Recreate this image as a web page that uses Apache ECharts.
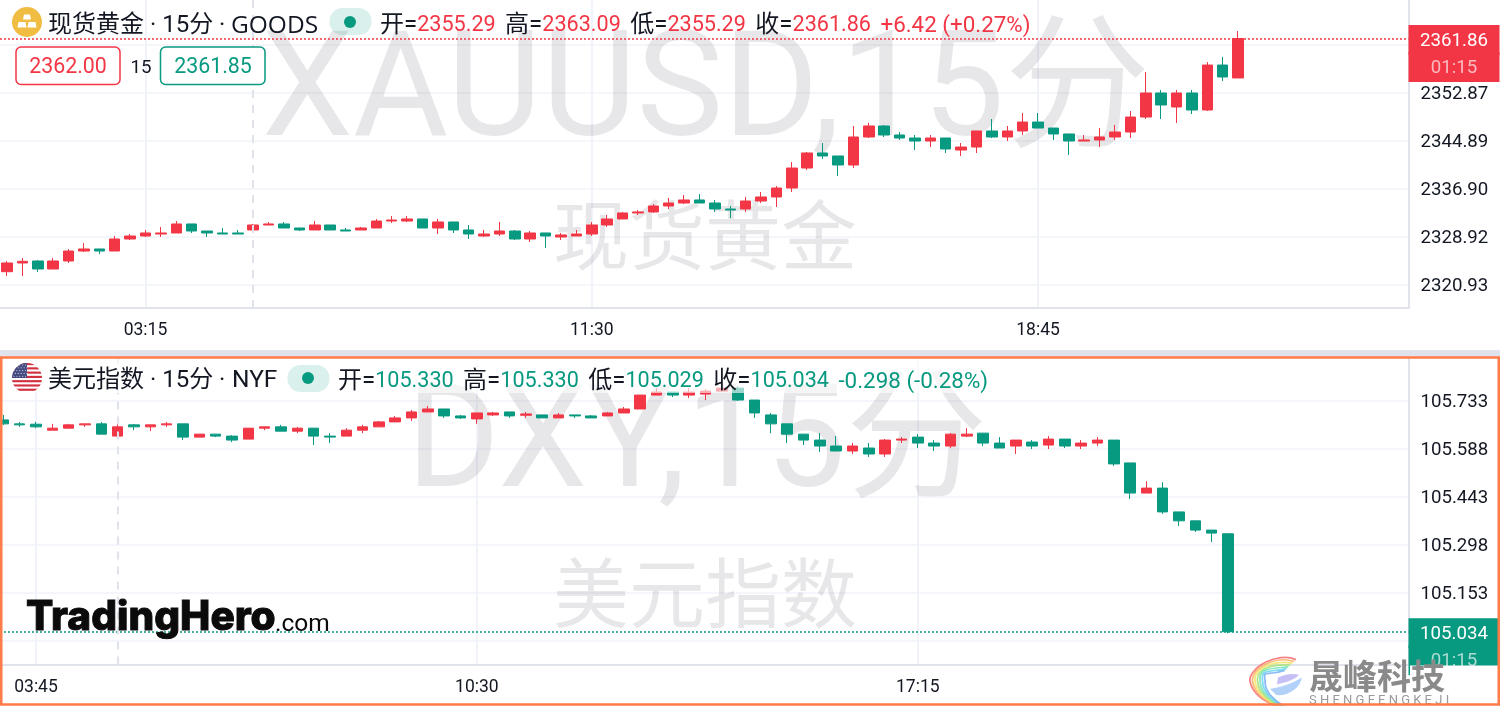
<!DOCTYPE html>
<html><head><meta charset="utf-8">
<style>html,body{margin:0;padding:0;background:#fff}#c{width:1500px;height:706px}</style>
<script src="https://cdn.jsdelivr.net/npm/echarts@6/dist/echarts.min.js"></script>
</head><body><div id="c"></div>
<script>
const UP='#F23645', DOWN='#089981', INK='#131722', GRID='#F0F3FA', AXIS='#E0E3EB';
const FONT='Roboto,"Noto Sans CJK SC",sans-serif';

// ---- 现货黄金 15分 ----
const goldOpen=[2323.06,2324.51,2324.84,2323.51,2324.84,2326.50,2326.84,2326.50,2328.50,2329.00,2329.33,2329.50,2331.00,2329.83,2329.50,2329.50,2330.00,2330.83,2331.00,2330.33,2330.00,2330.83,2330.00,2330.00,2330.33,2331.49,2331.49,2331.83,2330.33,2331.33,2330.00,2329.00,2329.33,2329.83,2328.50,2329.50,2328.83,2329.00,2329.33,2330.83,2331.83,2332.83,2333.00,2333.99,2334.49,2334.99,2334.49,2333.49,2333.49,2334.82,2335.49,2336.98,2340.31,2342.81,2342.31,2340.81,2345.47,2347.30,2345.80,2345.30,2344.80,2345.30,2343.30,2343.80,2346.47,2345.47,2346.47,2347.96,2346.96,2345.97,2344.80,2344.97,2345.47,2346.30,2348.79,2352.79,2350.46,2352.79,2349.96,2357.44,2355.29];
const goldHigh=[2324.84,2325.34,2325.00,2325.34,2326.84,2327.83,2326.84,2329.00,2329.33,2330.00,2330.50,2331.49,2331.00,2329.83,2330.33,2330.00,2331.00,2331.33,2331.33,2330.33,2331.49,2330.83,2330.33,2330.50,2331.83,2332.33,2332.33,2331.83,2331.83,2331.33,2330.83,2330.00,2331.33,2330.00,2329.83,2329.50,2329.50,2330.00,2331.33,2332.49,2333.00,2333.32,2334.32,2335.32,2335.82,2335.99,2334.99,2333.99,2335.49,2336.32,2337.31,2341.31,2342.97,2344.47,2342.31,2347.30,2347.80,2347.46,2346.30,2345.80,2345.80,2345.30,2344.47,2346.47,2348.46,2347.30,2349.46,2349.46,2346.96,2345.97,2345.80,2346.96,2347.46,2349.79,2356.28,2353.29,2353.29,2353.29,2357.94,2358.77,2363.09];
const goldLow=[2322.34,2322.34,2323.00,2323.51,2324.51,2326.34,2326.00,2326.50,2328.33,2328.83,2328.83,2329.50,2329.50,2328.83,2329.33,2329.33,2330.00,2330.83,2330.33,2329.83,2330.00,2330.00,2329.83,2330.00,2330.33,2331.16,2331.33,2330.33,2329.33,2329.50,2328.50,2328.83,2329.00,2328.33,2328.00,2327.00,2328.33,2329.00,2329.00,2330.50,2331.83,2332.49,2332.83,2333.49,2334.32,2334.49,2333.00,2331.99,2333.00,2334.49,2333.82,2336.32,2339.98,2341.81,2338.98,2340.31,2345.30,2345.47,2344.97,2343.30,2343.80,2342.81,2342.31,2342.81,2345.30,2344.80,2345.80,2346.96,2344.97,2342.47,2344.80,2343.80,2344.97,2345.30,2348.46,2348.46,2347.80,2349.29,2349.79,2354.78,2355.29];
const goldClose=[2324.51,2324.78,2323.51,2324.84,2326.50,2326.84,2326.50,2328.50,2329.00,2329.50,2329.50,2331.00,2329.83,2329.50,2329.33,2329.33,2330.83,2331.00,2330.33,2330.00,2330.83,2330.00,2329.83,2330.33,2331.49,2331.66,2331.83,2330.33,2331.33,2330.00,2329.33,2329.33,2329.83,2328.50,2329.50,2329.00,2329.17,2329.33,2330.83,2331.83,2332.83,2333.00,2333.99,2334.49,2334.99,2334.49,2333.49,2333.32,2334.82,2335.49,2336.98,2340.31,2342.81,2342.31,2340.81,2345.47,2347.30,2345.80,2345.30,2344.80,2345.30,2343.47,2343.80,2346.47,2345.47,2346.47,2347.96,2346.96,2345.97,2344.80,2344.97,2345.47,2346.30,2348.79,2352.79,2350.79,2352.79,2349.96,2357.44,2355.45,2361.86];
const goldTimeIdx=[9,38,67], goldTimeLabels=['03:15','11:30','18:45'], goldSessionIdx=16;
const goldGridValues=[2320.93,2328.92,2336.90,2344.89,2352.87,2360.86];
const goldTickLabels=[2320.93,2328.92,2336.90,2344.89,2352.87];
const goldLast=2361.86;

// ---- 美元指数 15分 ----
const dxyOpen=[105.674,105.662,105.661,105.643,105.649,105.659,105.662,105.625,105.659,105.653,105.659,105.662,105.622,105.631,105.625,105.616,105.649,105.653,105.640,105.649,105.625,105.625,105.643,105.653,105.668,105.680,105.698,105.707,105.686,105.677,105.689,105.698,105.688,105.689,105.680,105.689,105.686,105.686,105.695,105.707,105.749,105.758,105.749,105.752,105.761,105.770,105.734,105.689,105.662,105.631,105.613,105.595,105.580,105.589,105.571,105.613,105.622,105.604,105.595,105.625,105.634,105.604,105.595,105.607,105.598,105.616,105.595,105.604,105.613,105.544,105.453,105.468,105.396,105.369,105.341,105.330];
const dxyHigh=[105.689,105.668,105.668,105.662,105.662,105.662,105.668,105.662,105.662,105.659,105.668,105.662,105.631,105.631,105.628,105.649,105.653,105.659,105.653,105.649,105.634,105.649,105.659,105.671,105.686,105.704,105.716,105.707,105.689,105.695,105.698,105.698,105.698,105.689,105.695,105.689,105.689,105.698,105.713,105.749,105.770,105.758,105.770,105.767,105.779,105.776,105.734,105.695,105.662,105.631,105.634,105.625,105.604,105.604,105.616,105.622,105.631,105.613,105.634,105.649,105.634,105.622,105.613,105.613,105.625,105.616,105.613,105.622,105.613,105.544,105.489,105.486,105.396,105.369,105.341,105.330];
const dxyLow=[105.659,105.653,105.649,105.643,105.649,105.653,105.631,105.625,105.643,105.640,105.653,105.613,105.622,105.622,105.607,105.616,105.643,105.640,105.634,105.598,105.604,105.625,105.634,105.653,105.668,105.671,105.698,105.680,105.677,105.662,105.686,105.680,105.680,105.680,105.680,105.680,105.680,105.686,105.695,105.707,105.749,105.743,105.740,105.734,105.761,105.731,105.680,105.634,105.604,105.598,105.577,105.580,105.571,105.562,105.562,105.604,105.589,105.580,105.589,105.622,105.595,105.589,105.571,105.586,105.586,105.589,105.586,105.595,105.535,105.435,105.453,105.390,105.353,105.335,105.305,105.029];
const dxyClose=[105.662,105.659,105.653,105.649,105.659,105.662,105.631,105.653,105.653,105.659,105.662,105.622,105.631,105.625,105.613,105.649,105.653,105.640,105.649,105.625,105.622,105.643,105.653,105.668,105.680,105.698,105.707,105.686,105.680,105.695,105.695,105.686,105.692,105.680,105.689,105.686,105.680,105.695,105.707,105.749,105.758,105.749,105.758,105.761,105.770,105.734,105.695,105.662,105.631,105.613,105.595,105.580,105.595,105.571,105.613,105.616,105.604,105.595,105.631,105.631,105.604,105.589,105.613,105.595,105.616,105.595,105.604,105.613,105.541,105.453,105.468,105.396,105.369,105.341,105.332,105.034];
const dxyTimeIdx=[2,29,56], dxyTimeLabels=['03:45','10:30','17:15'], dxySessionIdx=7;
const dxyGridValues=[105.008,105.153,105.298,105.443,105.588,105.733];
const dxyTickLabels=[105.153,105.298,105.443,105.588,105.733];
const dxyLast=105.034;

// ---- texts ----
const goldName='现货黄金 · 15分 ·', goldVenue='GOODS', dxyName='美元指数 · 15分 ·', dxyVenue='NYF';
const goldStats=['2355.29','2363.09','2355.29','2361.86','+6.42 (+0.27%)'];
const dxyStats=['105.330','105.330','105.029','105.034','-0.298 (-0.28%)'];
const statNames=['开','高','低','收'];
const sellPrice='2362.00', spread='15', buyPrice='2361.85', countdown='01:15';

function rows(o,h,l,c){return o.map((v,i)=>[i,v,c[i],l[i],h[i]]);}
function candle(idx,data,last,sess,color,box,offsetY){
  const axis={xAxisIndex:idx,yAxisIndex:idx};
  const tok={backgroundColor:color,width:91,height:27,lineHeight:27,padding:[3,0,0,0],align:'center',fontSize:18.67,fontFamily:FONT};
  return Object.assign({type:'candlestick',data,barWidth:11,clip:true,silent:true,animation:false,
    itemStyle:{color:UP,color0:DOWN,borderColor:UP,borderColor0:DOWN,borderWidth:1},
    markLine:{silent:true,animation:false,symbol:'none',precision:3,
      data:[
       {yAxis:last,lineStyle:{color,type:[2,2],width:1.5,opacity:1},
        label:{show:true,position:'end',distance:0,offset:[0,offsetY],padding:0,
          formatter:'{p|'+box+'}\n{t|'+countdown+'}',
          rich:{p:Object.assign({color:'#fff'},tok),t:Object.assign({color:'rgba(255,255,255,.65)'},tok)}}},
       {xAxis:sess,lineStyle:{color:AXIS,type:[8,7],width:2,opacity:1},label:{show:false}}
      ]}},axis);
}
function xAx(idx,min,max,ticks,labels){
  return {type:'value',gridIndex:idx,min,max,
    axisLine:{show:true,onZero:false,lineStyle:{color:AXIS,width:2}},
    axisTick:{show:false,customValues:ticks},
    splitLine:{show:true,lineStyle:{color:GRID,width:2}},
    axisLabel:{customValues:ticks,margin:14,color:INK,fontSize:17.5,fontFamily:FONT,hideOverlap:false,
      formatter:v=>labels[ticks.indexOf(v)]||''}};
}
function yAx(idx,min,max,grids,ticks,digits){
  return {type:'value',gridIndex:idx,position:'right',min,max,scale:true,
    axisLine:{show:true,onZero:false,lineStyle:{color:AXIS,width:2}},
    axisTick:{show:false,customValues:grids},
    splitLine:{show:true,lineStyle:{color:GRID,width:1.5}},
    axisLabel:{customValues:ticks,margin:12,hideOverlap:false,
      rich:{a:{color:INK,fontSize:18.67,fontFamily:FONT,padding:[4,0,0,0]}},
      formatter:v=>'{a|'+v.toFixed(digits)+'}'}};
}
function svg(s,w,h){return 'data:image/svg+xml;charset=utf-8,'+encodeURIComponent('<svg xmlns="http://www.w3.org/2000/svg" width="'+w+'" height="'+h+'" viewBox="0 0 '+w+' '+h+'">'+s+'</svg>');}
const goldIcon=svg('<circle cx="15" cy="15" r="15" fill="#F0BC42"/><g fill="#fff"><path d="M12 7.5h6l1 5h-8z"/><path d="M6.5 15h7l1 5.5H5.5z"/><path d="M16.5 15h7l1 5.5h-9z"/></g>',30,30);
let stripes='';for(let i=0;i<7;i++)stripes+='<rect y="'+(i*4.28)+'" width="30" height="2.14" fill="#D22F3F"/>';
let stars='';for(let r=0;r<5;r++)for(let c=0;c<5;c++)stars+='<circle cx="'+(2+c*2.9+(r%2)*1.4)+'" cy="'+(2+r*2.8)+'" r=".55" fill="#dfe3ef"/>';
const flagIcon=svg('<defs><clipPath id="a"><circle cx="15" cy="15" r="15"/></clipPath></defs><g clip-path="url(#a)"><rect width="30" height="30" fill="#fff"/>'+stripes+'<rect width="15" height="15" fill="#454A80"/>'+stars+'</g>',30,30);
const arcs=['#F7777A','#F9B56A','#F3E36C','#A8E27A','#7FE3B8','#6FD6EE','#7CB4F5'];
let swirl='';arcs.forEach((a,i)=>{const k=i*2.1;swirl+='<path d="M'+(48-k*.9)+' '+(7+k*.9)+' C'+(30-k)+' '+(-2+k*2.2)+' '+(0+k*1.2)+' 16 '+(2+k*1.2)+' 30 C'+(4+k)+' 42 '+(16+k)+' 52 '+(30+k*.5)+' 56" fill="none" stroke="'+a+'" stroke-width="1.8" opacity=".9"/>';});
swirl+='<path d="M30 26 C35 23 44 21 51 23 C47 28 39 31 29 33 Z" fill="#C4BFF4"/><path d="M22 38 C31 37 43 33 54 26 C52 38 38 47 28 44 Z" fill="#A9CCF8" opacity=".9"/>';
const swirlIcon=svg(swirl,56,56);

function T(x,y,text,size,color,extra){return {type:'text',z:40,silent:true,style:Object.assign({x,y,text,fontSize:size,fill:color,fontFamily:FONT,verticalAlign:'middle'},extra||{})};}
function statText(x,y,stats,color){
  const rich={n:{fontSize:24,fill:INK,fontFamily:FONT},v:{fontSize:21.6,fill:color,fontFamily:FONT},g:{fontSize:19,fill:INK,fontFamily:FONT},e:{fontSize:22.4,fill:color,fontFamily:FONT}};
  let s='';statNames.forEach((n,i)=>{s+='{n|'+n+'=}{v|'+stats[i]+'}{g|  }';});
  s+='{e|'+stats[4]+'}';
  return {type:'text',z:40,silent:true,style:{x,y,text:s,rich,verticalAlign:'middle',font:'21.33px '+FONT}};
}
const WM='rgba(19,23,43,.1)';
const graphics=[
 // watermarks
 T(706,98,'XAUUSD,15分',146,WM,{align:'center',z:1}),
 T(705,245,'现货黄金',76,WM,{align:'center'}),
 T(697,450,'DXY,15分',142,WM,{align:'center'}),
 T(705,603,'美元指数',76,WM,{align:'center'}),
 // band between the panes
 {type:'rect',z:36,silent:true,shape:{x:0,y:350,width:1500,height:7},style:{fill:'#E0E3EB'}},
 // legend veil in lower pane, mask below axis
 {type:'rect',z:30,silent:true,shape:{x:3,y:359,width:1000,height:34},style:{fill:'rgba(255,255,255,.6)'}},
 {type:'rect',z:30,silent:true,shape:{x:1410,y:665.5,width:88,height:40},style:{fill:'#fff'}},
 // top pane header
 {type:'image',z:40,silent:true,style:{image:goldIcon,x:12,y:7,width:30,height:30}},
 T(48,26,goldName,24,INK),
 T(231,26,goldVenue,24.5,INK,{fontFamily:'"Open Sans",sans-serif'}),
 {type:'rect',z:40,silent:true,shape:{x:329.5,y:8,width:42,height:27,r:13},style:{fill:'rgba(8,153,129,.15)'}},
 {type:'circle',z:41,silent:true,shape:{cx:350,cy:22,r:6},style:{fill:DOWN}},
 statText(380,26,goldStats,UP),
 {type:'rect',z:40,silent:true,shape:{x:16,y:47,width:104,height:37.5,r:5},style:{fill:'#fff',stroke:UP,lineWidth:1.5}},
 T(68,68,sellPrice,21.33,UP,{align:'center'}),
 T(141,68,spread,18.67,INK,{align:'center'}),
 {type:'rect',z:40,silent:true,shape:{x:160.5,y:47,width:104.5,height:37.5,r:5},style:{fill:'#fff',stroke:DOWN,lineWidth:1.5}},
 T(213,68,buyPrice,21.33,DOWN,{align:'center'}),
 // lower pane header
 {type:'image',z:40,silent:true,style:{image:flagIcon,x:12,y:363,width:30,height:30}},
 T(48,381,dxyName,24,INK),
 T(232,381,dxyVenue,24.5,INK),
 {type:'rect',z:40,silent:true,shape:{x:287.5,y:365,width:42,height:27,r:13},style:{fill:'rgba(8,153,129,.15)'}},
 {type:'circle',z:41,silent:true,shape:{cx:308,cy:378,r:6},style:{fill:DOWN}},
 statText(338,382,dxyStats,DOWN),
 // brand marks
 T(26,618,'TradingHero',40.5,'#0b0b0b',{fontWeight:800,stroke:'#0b0b0b',lineWidth:1,fontFamily:'Inter,Roboto,sans-serif'}),
 T(275,625,'.com',24.5,'#0b0b0b',{fontFamily:'Roboto,sans-serif'}),
 {type:'image',z:42,silent:true,style:{image:swirlIcon,x:1248,y:653,width:56,height:53}},
 T(1309,676,'晟峰科技',34,'#8a8a8a',{fontWeight:700,fontFamily:'"Noto Sans CJK SC",sans-serif'}),
 T(1309,701,'S H E N G F E N G K E J I',13,'#9a9a9a'),
 // selected-pane frame
 {type:'rect',z:60,silent:true,shape:{x:1.25,y:357.5,width:1497.5,height:347},style:{fill:'none',stroke:'#FF7B47',lineWidth:2.5}}
];
// watermarks sit under the candles
graphics.slice(0,4).forEach(g=>{g.z=1;delete g.style.z;});

const chart=echarts.init(document.getElementById('c'),null,{renderer:'canvas'});
chart.setOption({animation:false,backgroundColor:'#fff',
 textStyle:{fontFamily:FONT},
 grid:[{left:0,top:0,width:1408.5,height:308},{left:0,top:358,width:1408.5,height:306.5}],
 xAxis:[xAx(0,-0.454,91.07,goldTimeIdx,goldTimeLabels),xAx(1,-0.2045,86.05,dxyTimeIdx,dxyTimeLabels)],
 yAxis:[yAx(0,2317.02,2368.26,goldGridValues,goldTickLabels,2),yAx(1,104.935,105.861,dxyGridValues,dxyTickLabels,3)],
 series:[candle(0,rows(goldOpen,goldHigh,goldLow,goldClose),goldLast,goldSessionIdx,UP,goldLast.toFixed(2),15),
         candle(1,rows(dxyOpen,dxyHigh,dxyLow,dxyClose),dxyLast,dxySessionIdx,DOWN,dxyLast.toFixed(3),15)],
 graphic:graphics});
</script></body></html>
